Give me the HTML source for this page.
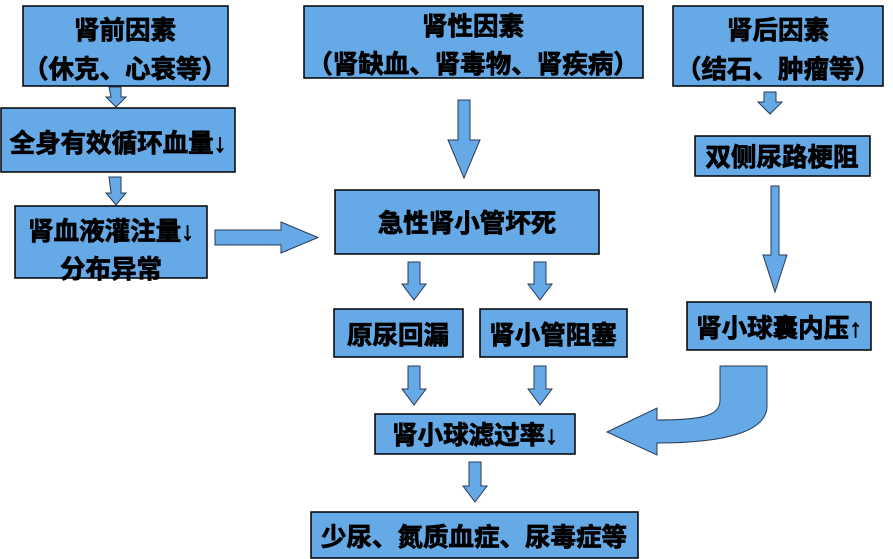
<!DOCTYPE html>
<html><head><meta charset="utf-8"><style>
body{margin:0;background:#fff;}
svg{display:block}
text{font-family:"Liberation Sans","Noto Sans CJK SC",sans-serif;font-weight:bold;fill:#000;stroke:#000;stroke-width:0.8;text-anchor:middle;}
</style></head><body>
<svg width="893" height="559" viewBox="0 0 893 559" xmlns="http://www.w3.org/2000/svg">
<g fill="#65a9e6" stroke="#000" stroke-width="1.5">
<rect x="23" y="6" width="205" height="80"/>
<rect x="304" y="6" width="339" height="72"/>
<rect x="673" y="6" width="210" height="80"/>
<rect x="1" y="108" width="234" height="64"/>
<rect x="15" y="206" width="192" height="72"/>
<rect x="335" y="190" width="264" height="64"/>
<rect x="695" y="136" width="175" height="40"/>
<rect x="334" y="309" width="129" height="48"/>
<rect x="480" y="309" width="147" height="48"/>
<rect x="687" y="302" width="184" height="48"/>
<rect x="375" y="414" width="200" height="40"/>
<rect x="311" y="512" width="327" height="46"/>
</g>
<g fill="#65a9e6" stroke="#2a3a55" stroke-width="1">
<path d="M109 87h12v10h5l-10 10l-10-10h5z"/>
<path d="M109 177h12v16h5l-10 12l-10-12h5z"/>
<path d="M458 100h12v40h10l-16 38l-16-38h10z"/>
<path d="M215 230h66v-8l37 15.5l-37 15.5v-8h-66z"/>
<path d="M408 262h12v22h6l-12 16l-12-16h6z"/>
<path d="M534 262h12v22h6l-12 16l-12-16h6z"/>
<path d="M408 366h12v23h6l-12 16l-12-16h6z"/>
<path d="M534 366h12v23h6l-12 16l-12-16h6z"/>
<path d="M469 462h12v24h6l-12 16l-12-16h6z"/>
<path d="M764 92h12v10h6l-12 12l-12-12h6z"/>
<path d="M771 186h8v69h8l-12 37l-12-37h8z"/>
<path d="M720 366h47v40c0 25-40 37-110 37v12l-50-23l50-24v12c45 0 63-4 63-20z"/>
</g>
<g font-size="25.5">
<text x="125" y="39">肾前因素</text>
<text x="125" y="78">（休克、心衰等）</text>
<text x="473" y="35">肾性因素</text>
<text x="473" y="73">（肾缺血、肾毒物、肾疾病）</text>
<text x="778" y="39">肾后因素</text>
<text x="778" y="78">（结石、肿瘤等）</text>
<text x="118" y="152">全身有效循环血量↓</text>
<text x="111" y="240">肾血液灌注量↓</text>
<text x="111" y="278">分布异常</text>
<text x="467" y="232">急性肾小管坏死</text>
<text x="782" y="166">双侧尿路梗阻</text>
<text x="398" y="344">原尿回漏</text>
<text x="553" y="344">肾小管阻塞</text>
<text x="779" y="337">肾小球囊内压↑</text>
<text x="475" y="444">肾小球滤过率↓</text>
<text x="474" y="546">少尿、氮质血症、尿毒症等</text>
</g>
</svg>
</body></html>
